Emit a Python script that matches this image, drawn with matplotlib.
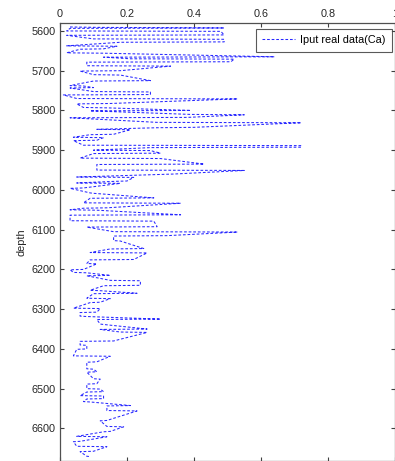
import matplotlib
matplotlib.use("Agg")
import matplotlib.pyplot as plt

plt.rcParams['font.family'] = ['Liberation Sans', 'DejaVu Sans']

# Calcium log trace: measured depth (ft) and Ca fraction, in logging order
depth = [
    5590, 5591, 5592.5, 5593.5, 5600, 5601, 5610, 5611, 5620, 5621,
    5627.5, 5628.5, 5637.5, 5638.5, 5645, 5646, 5655, 5656, 5665, 5666,
    5670, 5671, 5677.5, 5678.5, 5687.5, 5688.5, 5700, 5701, 5710, 5711,
    5725, 5726, 5737.5, 5738.5, 5742.5, 5743.5, 5752.5, 5753.5, 5760, 5761,
    5770, 5771, 5782.5, 5783.5, 5792.5, 5793.5, 5800, 5801, 5810, 5811,
    5817.5, 5818.5, 5830, 5831, 5842.5, 5843.5, 5847.5, 5848.5, 5860, 5861,
    5867.5, 5868.5, 5875, 5876, 5887.5, 5888.5, 5892.5, 5893.5, 5900, 5901,
    5907.5, 5908.5, 5920, 5921, 5935, 5936, 5950, 5951, 5960, 5961,
    5967.5, 5968.5, 5977.5, 5978.5, 5982.5, 5983.5, 5995, 5996, 6007.5, 6008.5,
    6020, 6021, 6032.5, 6033.5, 6045, 6046, 6050, 6051, 6062.5, 6063.5,
    6077.5, 6078.5, 6092.5, 6093.5, 6105, 6106, 6115, 6116, 6127.5, 6128.5,
    6147.5, 6148.5, 6157.5, 6158.5, 6175, 6176, 6185, 6186, 6200, 6201,
    6207.5, 6208.5, 6215, 6216, 6227.5, 6228.5, 6240, 6241, 6252.5, 6253.5,
    6260, 6261, 6272.5, 6273.5, 6282.5, 6283.5, 6297.5, 6298.5, 6307.5, 6308.5,
    6317.5, 6318.5, 6325, 6326, 6337.5, 6338.5, 6350, 6351, 6357.5, 6358.5,
    6380, 6381, 6390, 6391, 6400, 6401, 6417.5, 6418.5, 6432.5, 6433.5,
    6450, 6451, 6457.5, 6458.5, 6475, 6476, 6487.5, 6488.5, 6500, 6501,
    6507.5, 6508.5, 6517.5, 6518.5, 6525, 6526, 6532.5, 6533.5, 6542.5, 6543.5,
    6555, 6556, 6580, 6581, 6595, 6596, 6607.5, 6608.5, 6620, 6621,
    6632.5, 6633.5, 6645, 6646, 6657.5, 6658.5, 6670, 6671,
]
ca = [
    0.03, 0.11, 0.49, 0.03, 0.02, 0.48, 0.49, 0.02, 0.10, 0.49,
    0.49, 0.18, 0.02, 0.17, 0.13, 0.06, 0.02, 0.13, 0.64, 0.13,
    0.21, 0.52, 0.51, 0.08, 0.08, 0.33, 0.18, 0.06, 0.10, 0.18,
    0.27, 0.10, 0.03, 0.07, 0.10, 0.03, 0.10, 0.27, 0.27, 0.01,
    0.05, 0.53, 0.15, 0.05, 0.07, 0.14, 0.39, 0.09, 0.39, 0.55,
    0.38, 0.03, 0.29, 0.72, 0.40, 0.29, 0.11, 0.21, 0.16, 0.09,
    0.04, 0.13, 0.11, 0.04, 0.07, 0.72, 0.72, 0.27, 0.10, 0.27,
    0.30, 0.10, 0.06, 0.30, 0.43, 0.11, 0.11, 0.55, 0.34, 0.30,
    0.05, 0.22, 0.20, 0.16, 0.05, 0.18, 0.07, 0.03, 0.09, 0.10,
    0.28, 0.09, 0.07, 0.36, 0.14, 0.07, 0.03, 0.11, 0.36, 0.03,
    0.03, 0.28, 0.29, 0.08, 0.16, 0.53, 0.32, 0.16, 0.16, 0.18,
    0.25, 0.15, 0.09, 0.26, 0.22, 0.09, 0.08, 0.11, 0.07, 0.03,
    0.04, 0.08, 0.15, 0.08, 0.15, 0.24, 0.24, 0.13, 0.09, 0.12,
    0.23, 0.10, 0.08, 0.15, 0.12, 0.09, 0.04, 0.12, 0.11, 0.06,
    0.06, 0.08, 0.30, 0.11, 0.12, 0.13, 0.26, 0.12, 0.18, 0.26,
    0.16, 0.06, 0.06, 0.08, 0.08, 0.05, 0.04, 0.15, 0.11, 0.08,
    0.08, 0.10, 0.11, 0.08, 0.10, 0.12, 0.11, 0.08, 0.08, 0.12,
    0.13, 0.08, 0.06, 0.13, 0.13, 0.08, 0.07, 0.09, 0.21, 0.14,
    0.14, 0.23, 0.14, 0.12, 0.14, 0.19, 0.15, 0.13, 0.05, 0.14,
    0.06, 0.04, 0.05, 0.14, 0.10, 0.06, 0.08, 0.09,
]

x_ticks = [0, 0.2, 0.4, 0.6, 0.8, 1]
x_tick_labels = ['0', '0.2', '0.4', '0.6', '0.8', '1']
y_ticks = [5600, 5700, 5800, 5900, 6000, 6100, 6200, 6300, 6400, 6500, 6600]

fig = plt.figure(figsize=(3.95, 4.61), dpi=100)
ax = fig.add_axes([60 / 395, 0.0, 335 / 395, 1 - 23 / 461])

ax.plot(ca, depth, color='#2828ff', lw=0.75, linestyle=(0, (2.6, 1.8)),
        label='Iput real data(Ca)')

ax.set_xlim(0, 1)
ax.set_ylim(6682, 5580)
ax.set_xticks(x_ticks)
ax.set_xticklabels(x_tick_labels)
ax.set_yticks(y_ticks)

ax.xaxis.tick_top()
ax.tick_params(axis='both', direction='in', length=3, width=0.8,
               colors='#404040', labelsize=7.8, labelcolor='#262626',
               top=True, bottom=True, left=True, right=True,
               labeltop=True, labelbottom=False, pad=3)
for s in ax.spines.values():
    s.set_color('#505050')
    s.set_linewidth(0.9)

ax.set_ylabel('depth', fontsize=7.8, color='#262626', labelpad=4)

leg = ax.legend(loc='upper right', bbox_to_anchor=(0.998, 0.992), fontsize=7.8,
                frameon=True, fancybox=False, handlelength=3.0,
                borderpad=0.6, handletextpad=0.5, borderaxespad=0.2)
leg.get_frame().set_edgecolor('#303030')
leg.get_frame().set_linewidth(0.8)

fig.savefig('out.png', dpi=100)
